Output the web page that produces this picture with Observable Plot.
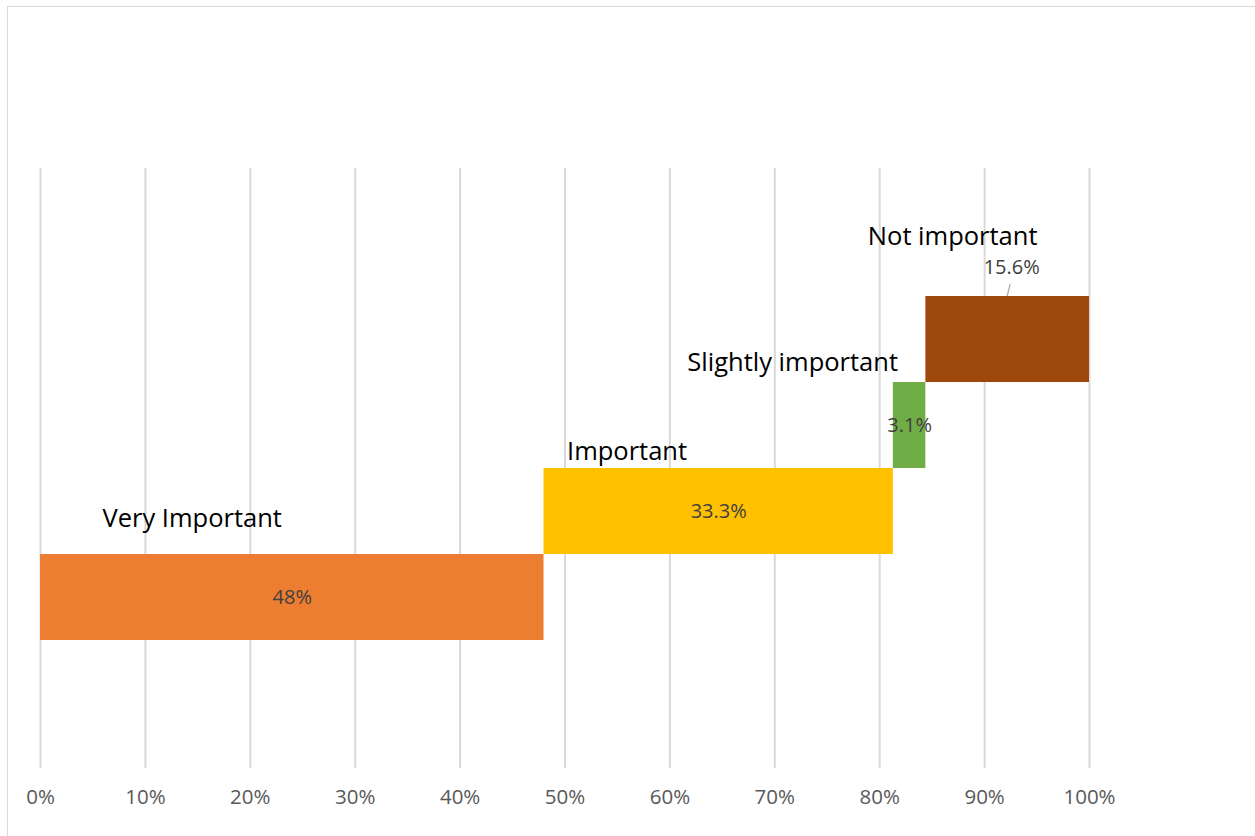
<!DOCTYPE html>
<html>
<head>
<meta charset="utf-8">
<script src="https://cdn.jsdelivr.net/npm/d3@7"></script>
<script src="https://cdn.jsdelivr.net/npm/@observablehq/plot@0.6"></script>
<style>
  html, body { margin: 0; padding: 0; background: #fff; }
  #wrap { position: relative; width: 1255px; height: 836px; overflow: hidden; }
  #frame { position: absolute; left: 7px; top: 6px; width: 1260px; height: 840px; border: 1px solid #d9d9d9; box-sizing: border-box; }
  #chart { position: absolute; left: 0; top: 0; }
</style>
</head>
<body>
<div id="wrap"><div id="frame"></div><div id="chart"></div></div>
<script>
const categories = ["Very Important", "Important", "Slightly important", "Not important"];
const values = [48, 33.3, 3.1, 15.6];
const valueLabels = ["48%", "33.3%", "3.1%", "15.6%"];
const colors = ["#ED7D31", "#FFC000", "#70AD47", "#9E480E"];
const tickValues = [0, 10, 20, 30, 40, 50, 60, 70, 80, 90, 100];

const ends = Array.from(d3.cumsum(values));
const data = categories.map((c, i) => ({
  category: c,
  start: ends[i] - values[i],
  end: ends[i],
  label: valueLabels[i],
  color: colors[i]
}));

// label placement offsets (pixels) mimicking manual placement
const catOffsets = [
  {dx: 62, dy: -79},
  {dx: 23, dy: -60},
  {dx: -206, dy: -63},
  {dx: -58, dy: -103}
];
const valOffsets = [
  {dx: 0, dy: 0},
  {dx: 0, dy: 0},
  {dx: 0, dy: 0},
  {dx: 4, dy: -72}
];

const font = "'Open Sans', 'Noto Sans', sans-serif";

const marks = [
  Plot.ruleX(tickValues, {stroke: "#d9d9d9", strokeWidth: 2}),
  Plot.barX(data, {x1: "start", x2: "end", y: "category", fill: "color"}),
  Plot.axisX({
    ticks: tickValues, tickSize: 0, tickPadding: 21,
    tickFormat: d => d + "%", fontSize: 20.5, fill: "#595959", label: null
  })
];
data.forEach((d, i) => {
  marks.push(Plot.text([d], {
    x: "start", y: "category", text: "category", textAnchor: "start",
    dx: catOffsets[i].dx, dy: catOffsets[i].dy, fontSize: 25.5, fill: "#000"
  }));
  marks.push(Plot.text([d], {
    x: r => (r.start + r.end) / 2, y: "category", text: "label",
    dx: valOffsets[i].dx, dy: valOffsets[i].dy, fontSize: 20, fill: "#404040"
  }));
});

const chart = Plot.plot({
  width: 1255,
  height: 836,
  marginLeft: 40,
  marginRight: 166,
  marginTop: 168,
  marginBottom: 68,
  style: {fontFamily: font, background: "transparent", overflow: "visible"},
  x: {domain: [0, 100], axis: null},
  y: {type: "band", domain: categories.slice().reverse(), range: [296, 640], padding: 0, axis: null},
  marks
});

// leader line for 15.6%, positioned through the chart's scales
const nd = data[3];
const xs = chart.scale("x"), ys = chart.scale("y");
const cx = xs.apply((nd.start + nd.end) / 2);
const barTop = ys.apply(nd.category);
d3.select(chart).append("line")
  .attr("x1", cx + 3).attr("y1", barTop - 12)
  .attr("x2", cx).attr("y2", barTop)
  .attr("stroke", "#a6a6a6").attr("stroke-width", 1.2);

document.getElementById("chart").appendChild(chart);
</script>
</body>
</html>
